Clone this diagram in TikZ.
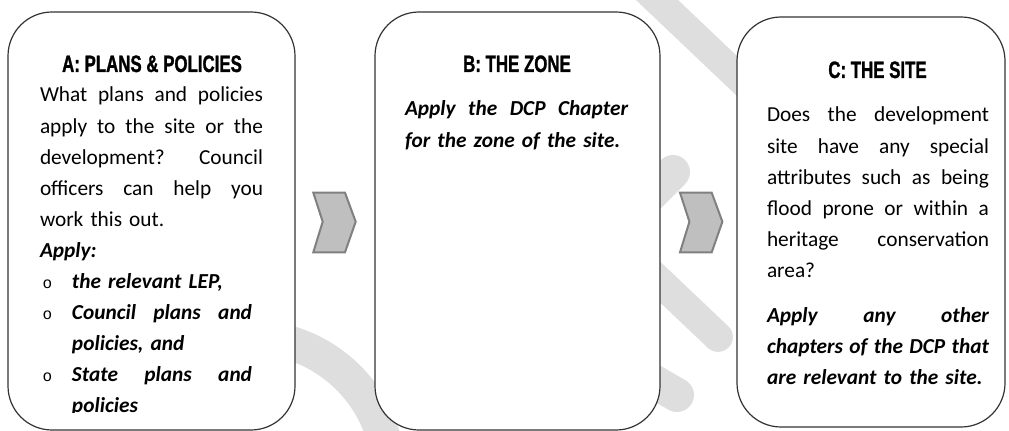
\documentclass[tikz,border=0pt]{standalone}
\usepackage{fontspec}
\setmainfont{Carlito}
\newfontfamily\headfont{Liberation Sans}[FakeStretch=0.71, FakeBold=1.2]
\newfontfamily\bulfont{Liberation Mono}

% one justified line, and a list bullet
\newcommand{\jl}[2][\linewidth]{\leavevmode\hbox to #1{\spaceskip=.22em plus 1fil\relax #2}}
\newcommand{\bul}{\hspace*{2pt}\makebox[22pt][l]{\bulfont\fontsize{12}{12}\selectfont o}}

\begin{document}
\begin{tikzpicture}[
    x=0.75pt, y=-0.75pt,
    every node/.style={inner sep=0pt, outer sep=0pt},
    card/.style={draw=black!80, line width=0.9pt, fill=white, rounded corners=33pt},
    head/.style={font=\headfont\bfseries\fontsize{17.8}{20}\selectfont, anchor=base},
    body/.style={font=\fontsize{16}{23.3}\selectfont, text width=167.25pt,
                 align=left, anchor=base west},
    chevron/.style={draw=black!50, line width=1.5pt, fill=black!25, line join=miter},
    wm/.style={draw=black!13},
]
\useasboundingbox (0,0) rectangle (1009,431);

% --- faint watermark behind the cards ---------------------------------
\begin{scope}
\clip (0,0) rectangle (1009,431);
\draw[wm, line width=25.5pt] (250,476) ++(100:104.25pt)
    arc[start angle=100, end angle=10, radius=104.25pt];
\draw[wm, line width=21.75pt] (597,-57) -- (777,114);
\draw[wm, line width=25.5pt, line cap=round] (620,225) -- (673,172);
\draw[wm, line width=22.3pt, line cap=round] (620,244) -- (718,337);
\draw[wm, line width=25.5pt, line cap=round] (620,362) -- (677,395);
\end{scope}

% --- the three cards -------------------------------------------------
\node[card, minimum width=215.25pt, minimum height=313.5pt] (boxA) at (151.5,221) {};
\node[card, minimum width=213.75pt, minimum height=313.5pt] (boxB) at (517.5,221) {};
\node[card, minimum width=201pt,    minimum height=307.5pt] (boxC) at (871,222) {};

% --- chevrons between the cards --------------------------------------
\foreach \cx in {313.3, 680}
    \draw[chevron] (\cx,192.7) -- ++(31.7,0) -- ++(10.7,29) -- ++(-10.7,30.6)
        -- ++(-31.7,0) -- ++(9.4,-30.6) -- cycle;

% --- A: plans & policies ---------------------------------------------
\node[head] (headA) at (152,72) {A: PLANS \& POLICIES};
\begin{scope}
\clip (0,0) rectangle (1009,412);
\node[body] (textA) at (40,102) {%
    \jl{What plans and policies}\\
    \jl{apply to the site or the}\\
    \jl{development?\ \ \ Council}\\
    \jl{officers can help you}\\
    \mbox{work this out.}\\
    \textbf{\textit{Apply:}}\\
    \bul\textbf{\textit{the relevant LEP,}}\\
    \bul\jl[135pt]{\textbf{\textit{Council plans and}}}\\
    \hspace*{24pt}\textbf{\textit{policies, and}}\\
    \bul\jl[135pt]{\textbf{\textit{State plans and}}}\\
    \hspace*{24pt}\textbf{\textit{policies}}};
\end{scope}

% --- B: the zone -----------------------------------------------------
\node[head] (headB) at (517,72) {B: THE ZONE};
\node[body] (textB) at (405,116) {\bfseries\itshape
    \jl{Apply the DCP Chapter}\\
    \mbox{for the zone of the site.}};

% --- C: the site -----------------------------------------------------
\node[head] (headC) at (877.5,78) {C: THE SITE};
\node[body, text width=166.5pt] (textC) at (767,122) {%
    \jl{Does the development}\\
    \jl{site have any special}\\
    \jl{attributes such as being}\\
    \jl{flood prone or within a}\\
    \jl{heritage conservation}\\
    \mbox{area?}\\[10.5pt]
    \bfseries\itshape
    \jl{Apply any other}\\
    \jl{chapters of the DCP that}\\
    \mbox{are relevant to the site.}};

\end{tikzpicture}
\end{document}
